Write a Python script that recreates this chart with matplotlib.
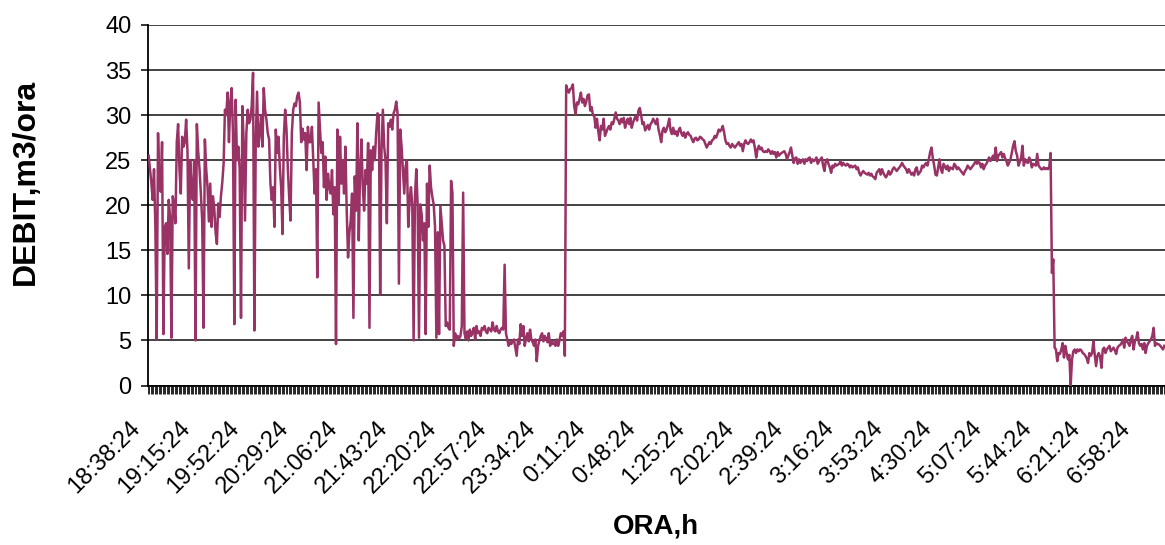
import matplotlib
matplotlib.use("Agg")
import matplotlib.pyplot as plt
import matplotlib.transforms as mtransforms
import numpy as np
from matplotlib.ticker import FixedLocator

# Flow rate (m3/h), one reading per minute starting 18:38:24
debit = [
    25.5, 24.0, 22.5, 20.6, 24.0, 17.6, 5.1, 28.0, 22.0, 21.5,
    27.0, 5.7, 17.5, 18.0, 14.6, 20.6, 18.7, 5.3, 21.0, 20.0,
    18.0, 27.0, 29.0, 24.0, 21.3, 27.6, 26.5, 27.0, 29.5, 26.0,
    13.0, 25.0, 22.0, 20.6, 25.0, 5.0, 29.0, 26.0, 24.0, 21.3,
    18.3, 6.4, 27.3, 24.0, 22.0, 18.2, 22.4, 17.6, 21.0, 19.7,
    17.0, 15.7, 20.2, 18.7, 21.0, 22.5, 24.6, 30.6, 30.0, 32.5,
    27.0, 31.4, 33.0, 28.0, 6.8, 31.7, 25.0, 26.5, 24.0, 7.5,
    31.0, 27.0, 18.3, 28.0, 30.6, 29.1, 29.5, 31.0, 34.7, 6.1,
    27.0, 32.6, 26.5, 28.0, 29.9, 26.5, 33.0, 30.6, 29.5, 28.0,
    27.3, 22.4, 20.6, 22.0, 17.6, 28.4, 25.8, 27.6, 24.3, 22.0,
    16.8, 27.6, 30.6, 28.4, 24.0, 20.9, 18.3, 28.0, 30.6, 31.3,
    31.0, 32.1, 32.5, 31.4, 27.0, 28.5, 27.3, 28.0, 23.9, 28.7,
    27.0, 27.0, 28.7, 25.0, 21.3, 24.0, 12.0, 31.4, 28.7, 25.8,
    27.0, 22.0, 25.4, 20.6, 23.5, 22.0, 21.3, 23.9, 19.0, 22.0,
    4.6, 28.4, 20.1, 27.6, 22.4, 25.0, 21.3, 26.5, 19.4, 14.2,
    17.0, 18.3, 21.3, 7.5, 23.2, 19.4, 29.1, 16.1, 23.9, 27.3,
    22.0, 19.4, 23.9, 22.4, 26.9, 6.4, 26.1, 23.9, 26.5, 25.0,
    28.0, 30.2, 29.9, 10.1, 26.1, 30.6, 26.5, 25.0, 18.0, 29.1,
    28.7, 29.5, 28.4, 30.2, 30.6, 31.5, 30.2, 11.3, 28.4, 26.5,
    24.0, 21.3, 24.3, 25.0, 17.6, 20.6, 22.0, 20.0, 5.0, 20.9,
    24.0, 20.0, 5.3, 20.1, 19.0, 16.1, 18.0, 5.7, 22.4, 17.6,
    24.4, 22.0, 20.9, 20.1, 17.6, 5.3, 17.0, 5.7, 19.9, 18.0,
    16.1, 15.5, 6.6, 7.0, 6.4, 6.2, 22.7, 21.4, 4.4, 5.8,
    5.1, 5.5, 5.2, 5.5, 6.6, 21.4, 5.8, 5.2, 6.0, 5.0,
    6.2, 5.5, 5.9, 6.4, 5.1, 6.6, 5.8, 6.0, 5.5, 6.4,
    6.2, 6.6, 6.0, 5.8, 6.4, 6.2, 6.0, 7.0, 6.2, 6.0,
    6.6, 6.0, 5.8, 6.2, 6.4, 6.2, 13.4, 5.8, 5.1, 4.4,
    4.8, 4.6, 5.0, 5.1, 4.2, 3.3, 5.1, 4.6, 6.8, 5.5,
    6.6, 4.4, 5.2, 5.8, 4.9, 6.2, 5.1, 4.8, 4.4, 5.1,
    2.7, 4.4, 5.0, 5.5, 5.8, 4.9, 5.5, 5.2, 4.8, 5.8,
    4.4, 4.9, 4.6, 4.8, 4.4, 5.1, 4.4, 5.0, 5.8, 5.5,
    6.0, 3.3, 33.3, 32.8, 32.5, 32.9, 33.0, 33.4, 31.0, 30.1,
    31.4, 31.2, 31.8, 32.5, 31.4, 31.8, 31.0, 31.5, 32.2, 32.3,
    30.5, 30.9, 30.0, 29.9, 28.6, 29.6, 28.2, 27.2, 28.8, 28.4,
    29.6, 27.7, 28.1, 28.5, 28.8, 28.4, 29.2, 29.0, 29.6, 30.3,
    29.6, 29.4, 29.0, 29.6, 29.2, 29.7, 28.6, 29.2, 29.6, 29.0,
    29.7, 28.6, 29.2, 29.6, 29.9, 29.4, 30.5, 30.8, 30.0, 29.0,
    29.2, 28.3, 28.6, 28.9, 28.4, 29.0, 29.2, 29.6, 29.3, 29.0,
    29.6, 28.4, 27.8, 27.0, 28.3, 28.6, 28.1, 28.4, 28.9, 29.6,
    28.3, 27.9, 28.6, 27.9, 28.2, 27.7, 28.3, 28.6, 28.0, 27.7,
    28.1, 27.5, 27.9, 28.1, 27.8, 27.7, 27.3, 27.0, 27.4, 27.5,
    27.2, 27.3, 27.6, 27.5, 27.3, 27.2, 26.8, 26.4, 26.7, 27.0,
    26.8, 27.2, 27.3, 27.7, 27.5, 27.9, 28.4, 28.2, 28.4, 28.8,
    28.1, 27.2, 26.8, 26.9, 26.6, 26.4, 26.8, 26.6, 26.4, 26.6,
    26.8, 27.0, 26.6, 26.8, 26.0, 26.8, 27.2, 26.9, 26.8, 27.0,
    27.3, 27.0, 27.2, 26.4, 25.3, 26.2, 26.6, 26.2, 26.4, 26.0,
    25.9, 26.0, 25.9, 26.2, 26.0, 25.7, 26.0, 25.7, 25.9, 25.3,
    25.9, 25.5, 25.7, 25.8, 25.9, 26.0, 25.7, 25.1, 25.5, 25.9,
    26.4, 25.5, 24.7, 25.2, 25.3, 24.6, 25.1, 24.7, 24.9, 25.1,
    24.6, 25.1, 24.9, 25.2, 25.3, 24.7, 25.1, 24.9, 25.0, 25.3,
    24.6, 24.9, 25.1, 25.3, 24.4, 23.8, 24.9, 25.1, 24.6, 24.2,
    23.6, 24.4, 24.2, 24.6, 24.4, 24.5, 24.6, 24.9, 24.4, 24.7,
    24.5, 24.4, 24.6, 24.5, 24.2, 24.4, 24.2, 24.3, 24.4, 24.0,
    24.2, 23.6, 23.3, 23.6, 23.8, 23.6, 23.5, 23.4, 23.6, 23.3,
    23.5, 23.2, 23.1, 22.9, 23.6, 23.8, 24.0, 23.4, 24.0, 23.6,
    23.3, 23.1, 23.4, 23.8, 23.4, 23.6, 24.0, 24.2, 24.0, 23.8,
    24.0, 24.2, 24.4, 24.7, 24.4, 24.2, 24.0, 23.6, 24.0, 23.7,
    23.4, 23.6, 23.3, 24.0, 24.2, 23.4, 23.6, 23.8, 24.4, 24.2,
    24.5, 24.7, 24.4, 25.1, 25.9, 26.4, 25.2, 24.4, 23.4, 23.3,
    24.2, 25.1, 24.0, 23.6, 24.6, 24.3, 24.0, 24.4, 23.8, 24.2,
    24.1, 24.0, 24.6, 24.4, 24.0, 24.2, 24.0, 23.8, 23.6, 23.4,
    23.8, 24.0, 24.4, 24.2, 24.0, 24.2, 24.4, 24.6, 24.9, 24.6,
    24.8, 24.7, 24.2, 24.6, 24.0, 24.4, 24.6, 24.9, 25.3, 24.9,
    25.2, 25.5, 25.1, 26.4, 24.9, 25.5, 25.7, 25.9, 25.3, 25.7,
    25.2, 24.9, 24.4, 24.7, 25.1, 25.8, 26.6, 27.1, 26.0, 25.5,
    24.4, 24.8, 25.3, 26.6, 24.4, 25.1, 24.8, 24.7, 25.3, 24.9,
    24.2, 24.6, 24.5, 24.4, 25.7, 24.4, 24.2, 24.0, 24.0, 24.2,
    24.0, 24.1, 24.0, 24.2, 25.8, 12.5, 14.0, 4.2, 4.0, 2.7,
    3.6, 3.5, 4.0, 4.7, 3.1, 4.4, 3.6, 2.9, 3.4, 0.0,
    2.9, 3.8, 4.0, 3.6, 4.0, 3.8, 4.0, 3.9, 3.6, 3.5,
    3.3, 3.0, 2.5, 3.6, 3.3, 3.6, 4.9, 3.4, 2.15, 3.3,
    3.6, 3.2, 1.96, 4.0, 4.2, 3.6, 4.0, 4.2, 4.4, 3.8,
    4.0, 4.2, 3.9, 3.5, 4.2, 4.4, 4.5, 4.7, 5.1, 4.2,
    5.3, 4.9, 4.7, 4.4, 5.1, 5.5, 4.0, 4.9, 5.2, 5.9,
    4.7, 4.4, 4.6, 4.0, 4.7, 3.6, 4.4, 4.7, 4.9, 5.1,
    5.5, 6.4, 4.4, 4.7, 4.6, 4.55, 4.4, 4.2, 4.0, 4.4,
]

tick_labels = [
    "18:38:24", "19:15:24", "19:52:24", "20:29:24", "21:06:24", "21:43:24",
    "22:20:24", "22:57:24", "23:34:24", "0:11:24", "0:48:24", "1:25:24",
    "2:02:24", "2:39:24", "3:16:24", "3:53:24", "4:30:24", "5:07:24",
    "5:44:24", "6:21:24", "6:58:24",
]
label_step = 37
y_ticks = [0, 5, 10, 15, 20, 25, 30, 35, 40]
y_title = "DEBIT,m3/ora"
x_title = "ORA,h"

plt.rcParams["font.family"] = ["Liberation Sans", "DejaVu Sans"]

W, H = 1165, 545
fig = plt.figure(figsize=(W / 100, H / 100), dpi=100)
left, top, bottom = 148, 25, 385.5
ax = fig.add_axes([left / W, 1 - bottom / H, 1 - left / W, (bottom - top) / H])

n = len(debit)
x = np.arange(n)
ax.plot(x, debit, color="#993366", lw=1.8, zorder=3, solid_joinstyle="round")

ax.set_xlim(-0.5, n - 0.5)
ax.set_ylim(0, 40)
ax.set_yticks(y_ticks)
ax.set_yticklabels([str(v) for v in y_ticks], fontsize=17)
ax.yaxis.grid(True, color="#222222", lw=1.2)
ax.set_axisbelow(True)
for s in ["top", "right"]:
    ax.spines[s].set_visible(False)
ax.spines["left"].set_linewidth(1.3)
ax.spines["bottom"].set_linewidth(1.3)

ax.xaxis.set_major_locator(FixedLocator(list(range(0, n, label_step))))
ax.set_xticklabels(tick_labels[: len(range(0, n, label_step))], rotation=45,
                   ha="right", fontsize=17)
ax.xaxis.set_minor_locator(FixedLocator(list(np.arange(n + 1) - 0.5)))
ax.tick_params(axis="x", which="major", length=0, pad=23)
ax.tick_params(axis="x", which="minor", length=5.5, width=0.6, color="black")
ax.tick_params(axis="y", which="major", length=5, width=1.1, pad=7)

shift = mtransforms.ScaledTranslation(-4 / 100, 0, fig.dpi_scale_trans)
for lab in ax.get_xticklabels():
    lab.set_transform(lab.get_transform() + shift)

fig.text(26 / W, 1 - 182 / H, y_title, rotation=90, ha="center", va="center",
         fontsize=23, fontweight="bold")
fig.text(656 / W, 1 - 527 / H, x_title, ha="center", va="center",
         fontsize=20, fontweight="bold")

fig.savefig("out.png", dpi=100)
